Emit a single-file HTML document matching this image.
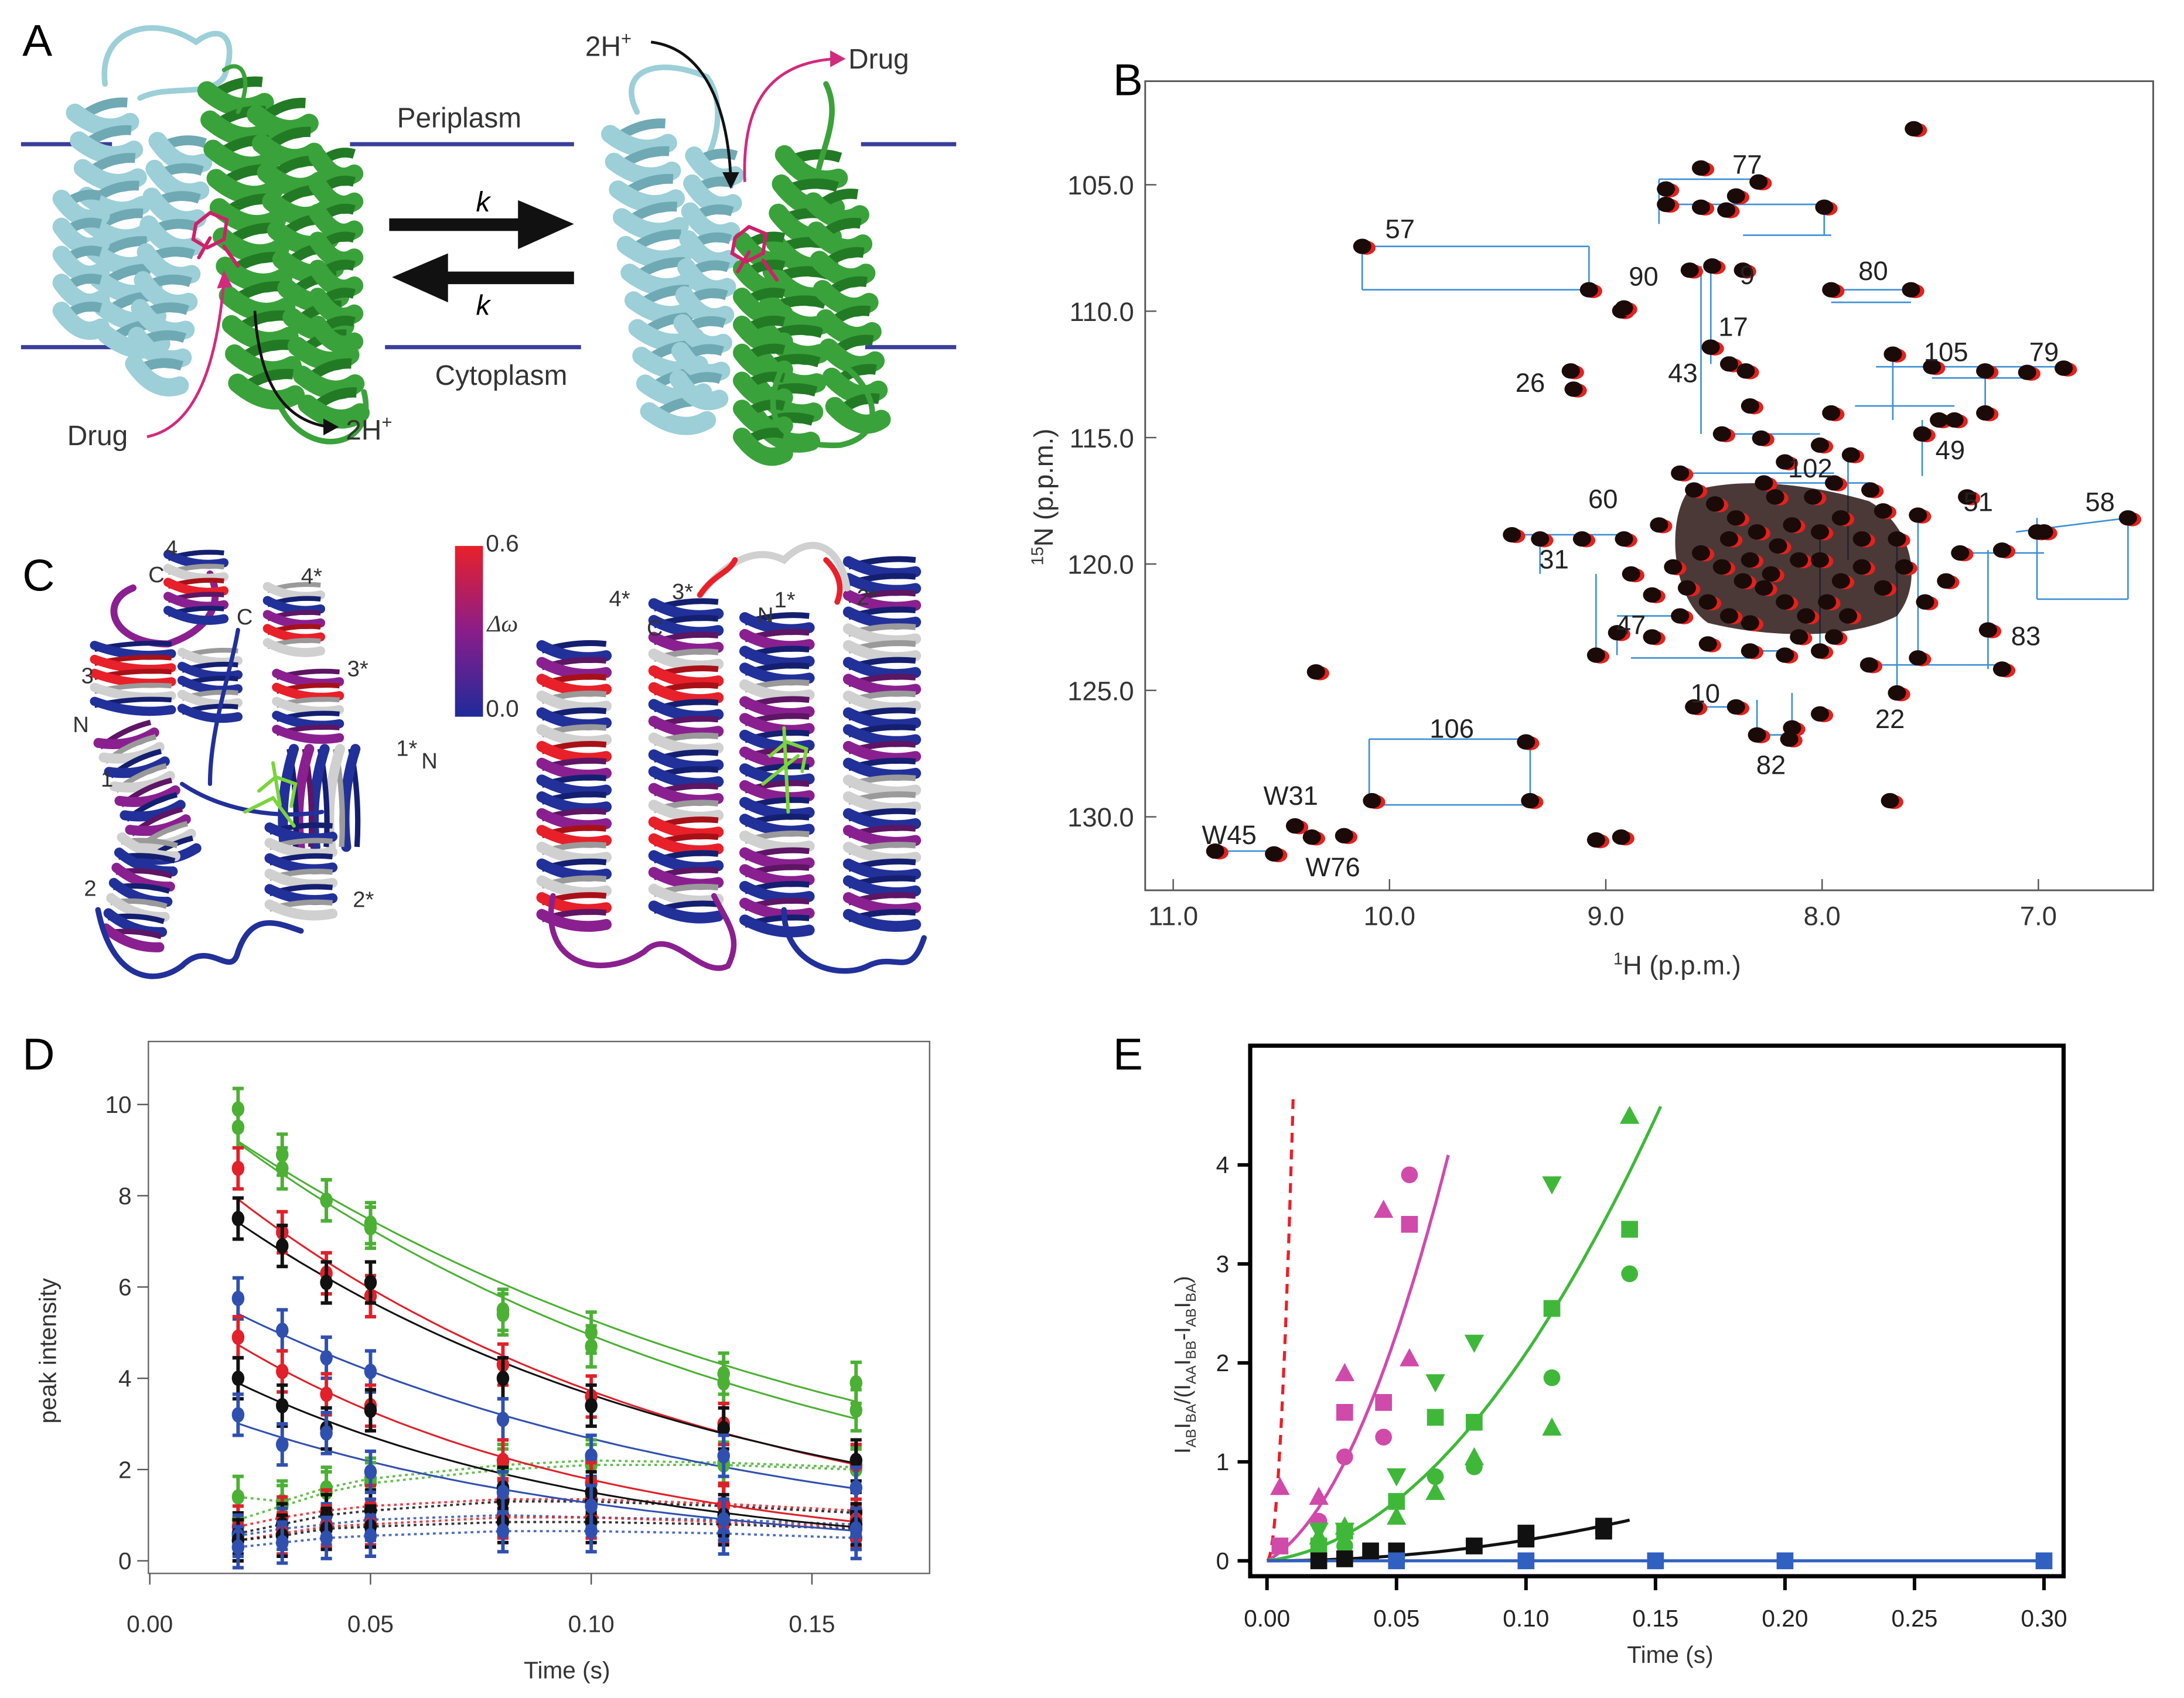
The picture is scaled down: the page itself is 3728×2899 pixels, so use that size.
<!DOCTYPE html>
<html><head><meta charset="utf-8">
<style>
html,body{margin:0;padding:0;background:#fff;}
svg{display:block;font-family:"Liberation Sans",sans-serif;}
</style></head>
<body>
<svg id="fig" width="3728" height="2899" viewBox="0 0 1560 1213" preserveAspectRatio="none" xmlns="http://www.w3.org/2000/svg">
<rect x="0" y="0" width="1560" height="1213" fill="#fff"/>
<!-- Panel A -->
<g id="panelA">
<text x="16" y="40" font-size="32">A</text>
<g stroke="#3a3f9a" stroke-width="3">
<line x1="15" y1="103" x2="80" y2="103"/><line x1="250" y1="103" x2="410" y2="103"/><line x1="615" y1="103" x2="683" y2="103"/>
<line x1="15" y1="248" x2="80" y2="248"/><line x1="275" y1="248" x2="415" y2="248"/><line x1="618" y1="248" x2="683" y2="248"/>
</g>
<text x="328" y="91" font-size="20" text-anchor="middle" fill="#333">Periplasm</text>
<text x="358" y="275" font-size="20" text-anchor="middle" fill="#333">Cytoplasm</text>
<g><rect x="278" y="156" width="95" height="9" fill="#111"/><polygon points="370,143 410,160 370,178" fill="#111"/></g>
<g><rect x="318" y="194" width="92" height="9" fill="#111"/><polygon points="320,181 280,198 320,216" fill="#111"/></g>
<text x="345" y="151" font-size="20" font-style="italic" text-anchor="middle">k</text>
<text x="345" y="225" font-size="20" font-style="italic" text-anchor="middle">k</text>
<g id="protA1"></g>
<g id="protA2"></g>
<path d="M105,312 C140,305 155,260 160,200" fill="none" stroke="#d22a7c" stroke-width="2"/>
<polygon points="160,193 155,206 166,205" fill="#d22a7c"/>
<path d="M182,222 C185,270 200,300 235,305" fill="none" stroke="#111" stroke-width="2"/>
<polygon points="242,305 231,299 231,311" fill="#111"/>
<text x="48" y="318" font-size="20" fill="#333">Drug</text>
<text x="247" y="314" font-size="20" fill="#333">2H<tspan font-size="13" dy="-8">+</tspan></text>
<path d="M465,30 C505,35 520,80 522,128" fill="none" stroke="#111" stroke-width="2"/>
<polygon points="522,135 516,123 528,123" fill="#111"/>
<path d="M532,130 C530,80 545,45 597,42" fill="none" stroke="#d22a7c" stroke-width="2"/>
<polygon points="604,42 593,36 593,48" fill="#d22a7c"/>
<text x="418" y="40" font-size="20" fill="#333">2H<tspan font-size="13" dy="-8">+</tspan></text>
<text x="606" y="49" font-size="20" fill="#333">Drug</text>
</g>
<!-- Panel B -->
<g id="panelB">
<text x="795" y="68" font-size="32">B</text>
<rect x="818" y="58" width="720" height="578" fill="none" stroke="#555" stroke-width="1.2"/>
<g id="bLines"></g>
<g id="bPeaks"></g>
<g id="bAxes"></g>
<g id="bLabels"></g>
<text transform="translate(752,355) rotate(-90)" font-size="19" text-anchor="middle" fill="#333"><tspan font-size="12" dy="-7">15</tspan><tspan dy="7">N (p.p.m.)</tspan></text>
<text x="1198" y="696" font-size="19" text-anchor="middle" fill="#333"><tspan font-size="12" dy="-7">1</tspan><tspan dy="7">H (p.p.m.)</tspan></text>
</g>
<!-- Panel C -->
<g id="panelC">
<text x="16" y="422" font-size="32">C</text>
<g id="protC1"></g>
<g id="protC2"></g>
<defs><linearGradient id="cbar" x1="0" y1="1" x2="0" y2="0"><stop offset="0" stop-color="#1f2a9a"/><stop offset="0.5" stop-color="#8a1d8a"/><stop offset="1" stop-color="#e8202a"/></linearGradient></defs>
<rect x="325" y="390" width="20" height="122" fill="url(#cbar)"/>
<text x="347" y="394" font-size="17" fill="#333">0.6</text>
<text x="347" y="512" font-size="17" fill="#333">0.0</text>
<text x="348" y="451" font-size="17" font-style="italic" fill="#333" font-family="Liberation Serif,serif">Δω</text>
<g font-size="16" fill="#333">
<text x="118" y="397">4</text><text x="106" y="416">C</text><text x="215" y="417">4*</text><text x="169" y="446">C</text>
<text x="248" y="483">3*</text><text x="58" y="488">3</text><text x="52" y="523">N</text><text x="283" y="540">1*</text><text x="301" y="549">N</text>
<text x="72" y="562">1</text><text x="60" y="640">2</text><text x="252" y="648">2*</text>
<text x="435" y="433">4*</text><text x="462" y="454">C</text><text x="480" y="428">3*</text><text x="541" y="445">N</text><text x="553" y="434">1*</text><text x="612" y="432">2*</text>
</g>
</g>
<!-- Panel D -->
<g id="panelD">
<text x="16" y="764" font-size="32">D</text>
<rect x="106" y="744" width="558" height="380" fill="none" stroke="#666" stroke-width="1"/>
<g id="dMarks"></g>
<g id="dAxes"></g>
<text x="405" y="1199" font-size="17" text-anchor="middle" fill="#333">Time (s)</text>
<text transform="translate(40,965) rotate(-90)" font-size="17" text-anchor="middle" fill="#333">peak intensity</text>
</g>
<!-- Panel E -->
<g id="panelE">
<text x="795" y="764" font-size="32">E</text>
<rect x="893" y="747" width="581" height="379" fill="none" stroke="#000" stroke-width="3"/>
<g id="eMarks"></g>
<g id="eAxes"></g>
<text x="1193" y="1188" font-size="17" text-anchor="middle" fill="#333">Time (s)</text>
<text transform="translate(850,975) rotate(-90)" font-size="16" text-anchor="middle" fill="#333">I<tspan font-size="10" dy="4">AB</tspan><tspan dy="-4">I</tspan><tspan font-size="10" dy="4">BA</tspan><tspan dy="-4">/(I</tspan><tspan font-size="10" dy="4">AA</tspan><tspan dy="-4">I</tspan><tspan font-size="10" dy="4">BB</tspan><tspan dy="-4">-I</tspan><tspan font-size="10" dy="4">AB</tspan><tspan dy="-4">I</tspan><tspan font-size="10" dy="4">BA</tspan><tspan dy="-4">)</tspan></text>
</g>
</svg>
<script>
const NS="http://www.w3.org/2000/svg";
function mk(tag,attrs,parent){const e=document.createElementNS(NS,tag);for(const k in attrs)e.setAttribute(k,attrs[k]);if(parent)parent.appendChild(e);return e;}

/* ---------- Panel D data ---------- */
const dTimes=[0.02,0.03,0.04,0.05,0.08,0.10,0.13,0.16];
const dXTicks=[0,0.05,0.10,0.15];
const dXTickLabels=["0.00","0.05","0.10","0.15"];
const dYTicks=[0,2,4,6,8,10];
const dColors=["#4cb034","#4cb034","#e0202a","#111111","#3050b0","#e0202a","#111111","#3050b0"];
const dDecayGreen1=[9.9,8.9,7.9,7.4,5.5,5.0,4.1,3.9];
const dDecayGreen2=[9.5,8.6,7.9,7.3,5.4,4.7,3.9,3.3];
const dDecayRed1=[8.6,7.2,6.3,5.8,4.3,3.6,3.0,2.1];
const dDecayBlack1=[7.5,6.9,6.1,6.1,4.0,3.4,2.9,2.2];
const dDecayBlue1=[5.75,5.05,4.45,4.15,3.1,2.3,2.3,1.6];
const dDecayRed2=[4.9,4.15,3.65,3.4,2.2,1.7,1.2,0.9];
const dDecayBlack2=[4.0,3.4,2.9,3.3,1.6,1.5,1.0,0.8];
const dDecayBlue2=[3.2,2.55,2.8,1.95,1.5,1.2,0.9,0.7];
const dCrossGreen1=[1.4,1.3,1.6,1.8,2.1,2.2,2.15,2.05];
const dCrossGreen2=[0.9,1.2,1.5,1.7,2.0,2.1,2.1,2.0];
const dCrossRed1=[0.75,0.95,1.1,1.2,1.35,1.35,1.25,1.1];
const dCrossBlack1=[0.6,0.8,1.0,1.1,1.3,1.3,1.2,1.05];
const dCrossBlue1=[0.55,0.7,0.8,0.9,1.0,0.95,0.9,0.8];
const dCrossRed2=[0.45,0.6,0.75,0.8,0.95,0.95,0.85,0.75];
const dCrossBlack2=[0.45,0.55,0.7,0.75,0.85,0.85,0.8,0.7];
const dCrossBlue2=[0.3,0.4,0.5,0.55,0.65,0.65,0.6,0.5];
const dDecay=[dDecayGreen1,dDecayGreen2,dDecayRed1,dDecayBlack1,dDecayBlue1,dDecayRed2,dDecayBlack2,dDecayBlue2];
const dCross=[dCrossGreen1,dCrossGreen2,dCrossRed1,dCrossBlack1,dCrossBlue1,dCrossRed2,dCrossBlack2,dCrossBlue2];

/* ---------- Panel E data ---------- */
const eXTicks=[0,0.05,0.10,0.15,0.20,0.25,0.30];
const eXTickLabels=["0.00","0.05","0.10","0.15","0.20","0.25","0.30"];
const eYTicks=[0,1,2,3,4];
const eMagTriT=[0.005,0.02,0.03,0.045,0.055];
const eMagTriV=[0.75,0.65,1.9,3.55,2.05];
const eMagSqT=[0.005,0.03,0.045,0.055];
const eMagSqV=[0.15,1.5,1.6,3.4];
const eMagCirT=[0.02,0.03,0.045,0.055];
const eMagCirV=[0.4,1.05,1.25,3.9];
const eGrnSqT=[0.02,0.03,0.05,0.065,0.08,0.11,0.14];
const eGrnSqV=[0.15,0.3,0.6,1.45,1.4,2.55,3.35];
const eGrnCirT=[0.02,0.03,0.065,0.08,0.11,0.14];
const eGrnCirV=[0.1,0.15,0.85,0.95,1.85,2.9];
const eGrnTriT=[0.02,0.03,0.05,0.065,0.08,0.11,0.14];
const eGrnTriV=[0.25,0.35,0.45,0.7,1.05,1.35,4.5];
const eGrnDnT=[0.02,0.03,0.05,0.065,0.08,0.11];
const eGrnDnV=[0.3,0.3,0.85,1.8,2.2,3.8];
const eBlkT=[0.02,0.03,0.04,0.05,0.08,0.10,0.10,0.13,0.13];
const eBlkV=[0.0,0.02,0.1,0.1,0.15,0.22,0.28,0.3,0.35];
const eBluT=[0.05,0.10,0.15,0.20,0.30];
const eBluV=[0,0,0,0,0];
const eFitMagenta=[14.4,631,0.07];
const eFitGreen=[3.3,177,0.152];
const eFitBlack=[0.0,21,0.14];
const eFitBlue=[0.0,0.0,0.30];
const eFitRedDash=[0,46000,0.0101];

/* ---------- Panel B data (ppm) ---------- */
const bPeakH=[];const bPeakN=[];
const bPeakPx=[[1367,92],[973,176],[1135,207],[1158,222],[1190,146],[1215,148],[1233,150],[1256,130],[1303,148],[1207,193],[1223,190],[1245,193],[1308,207],[1365,207],[1222,248],[1235,260],[1247,265],[1122,265],[1124,278],[1352,253],[1380,262],[1418,265],[1448,266],[1474,263],[1418,295],[1385,300],[1308,295],[1250,290],[1258,313],[1230,310],[1275,330],[1300,318],[1322,325],[1373,310],[1396,300],[1200,338],[1260,345],[1310,345],[1336,350],[1370,368],[1405,355],[1455,380],[1520,370],[1080,382],[1100,385],[1130,385],[1160,385],[1185,375],[1300,380],[1355,385],[1400,395],[1430,393],[1460,380],[1140,468],[1155,452],[1180,455],[1220,460],[1250,465],[1275,468],[1300,465],[1335,475],[1370,470],[1420,450],[1430,478],[1355,495],[1210,505],[1240,505],[1280,520],[1300,510],[1255,525],[1278,528],[1090,530],[1093,572],[980,572],[940,480],[925,590],[937,598],[960,597],[868,608],[910,610],[1140,600],[1158,598],[1350,572],[1215,120],[1190,135],[1240,140],[1160,220],[1295,355],[1268,355],
[1210,350],[1225,360],[1240,370],[1255,380],[1270,390],[1285,400],[1215,395],[1230,405],[1245,415],[1260,420],[1275,430],[1290,440],[1205,420],[1220,430],[1235,440],[1250,445],[1265,410],[1280,375],[1300,400],[1315,415],[1330,405],[1345,420],[1320,440],[1305,430],[1195,405],[1200,440],[1315,370],[1330,385],[1345,365],[1360,405],[1375,430],[1390,415],[1165,410],[1180,425],[1235,385],[1250,400],[1285,455],[1310,455]];
bPeakPx.forEach(p=>{bPeakH.push(+(11-(p[0]-838)/154.5).toFixed(3));bPeakN.push(+(105+(p[1]-132)/18.06).toFixed(3));});
const bLabels=[["77",1248,124],["57",1000,170],["90",1174,204],["9",1248,203],["80",1338,200],["17",1238,240],["105",1390,258],["79",1460,258],["26",1093,280],["43",1202,273],["49",1393,328],["102",1293,341],["60",1145,363],["51",1413,365],["58",1500,365],["31",1110,406],["47",1165,453],["83",1447,461],["10",1218,502],["22",1350,520],["82",1265,553],["106",1037,527],["W31",922,575],["W45",878,603],["W76",952,626]];

const xB=h=>838+(11-h)*154.5, yB=n=>132+(n-105)*18.06;
const bYTicks=[105,110,115,120,125,130];
const bXTicks=[11,10,9,8,7];

(function(){
 const ax=document.getElementById('bAxes');
 bYTicks.forEach(v=>{mk('line',{x1:818,x2:826,y1:yB(v),y2:yB(v),stroke:'#555'},ax);
  const t=mk('text',{x:810,y:yB(v)+7,'font-size':19,'text-anchor':'end',fill:'#333'},ax);t.textContent=v.toFixed(1);
  
  });
 bXTicks.forEach(v=>{mk('line',{x1:xB(v),x2:xB(v),y1:636,y2:628,stroke:'#555'},ax);
  const t=mk('text',{x:xB(v),y:661,'font-size':19,'text-anchor':'middle',fill:'#333'},ax);t.textContent=v.toFixed(1);
  
  });
 const ln=document.getElementById('bLines');
 const segs=[[973,176,1135,176],[1135,176,1135,207],[973,207,1135,207],[973,176,973,207],[978,528,1093,528],[1093,528,1093,575],[978,575,1093,575],[978,528,978,575],[868,608,910,608],
 [1185,128,1256,128],[1185,128,1185,160],[1190,146,1303,146],[1245,168,1308,168],[1303,146,1303,168],[1308,207,1365,207],[1308,216,1365,216],[1215,190,1215,310],[1222,190,1222,260],[1340,262,1474,262],[1352,253,1352,300],[1418,265,1418,300],[1380,270,1448,270],[1440,380,1520,370],[1455,370,1455,428],[1455,428,1520,428],[1520,370,1520,428],[1080,382,1160,382],[1100,385,1100,410],[1140,410,1140,468],[1155,440,1200,440],[1155,452,1155,468],[1300,380,1300,465],[1355,385,1355,495],[1335,475,1430,475],[1420,393,1420,478],[1210,505,1240,505],[1255,525,1278,525],[1255,500,1255,525],[1280,495,1280,520],[1250,465,1275,465],[1370,368,1370,470],[1400,395,1460,395],[1200,338,1310,338],[1260,345,1336,345],[1325,290,1396,290],[1373,300,1373,340],[1320,330,1320,400],[1230,310,1300,310],[1165,470,1250,470]];
 segs.forEach(s=>{const l=mk('line',{x1:s[0],y1:s[1],x2:s[2],y2:s[3],stroke:'#3b8fd6','stroke-width':1.1},ln);
  
  });
 const pk=document.getElementById('bPeaks');
 mk('path',{d:'M1205,352 C1240,340 1290,345 1335,358 C1365,375 1375,415 1355,440 C1320,458 1260,455 1220,445 C1195,428 1190,375 1205,352Z',fill:'#1e0806',opacity:0.8},pk);
 for(let i=0;i<bPeakH.length;i++){
  const x=xB(bPeakH[i]),y=yB(bPeakN[i]);
  const r=mk('ellipse',{cx:x+3,cy:y+1,rx:6.5,ry:5,fill:'#e8201c'},pk);
  
  
  const e=mk('ellipse',{cx:x,cy:y,rx:6.5,ry:5.5,fill:'#1a0a08'},pk);
  
  
 }
 const lb=document.getElementById('bLabels');
 bLabels.forEach(l=>{const t=mk('text',{x:l[1],y:l[2],'font-size':19,'text-anchor':'middle',fill:'#222'},lb);t.textContent=l[0];
  
  });
})();

function helix(g,cx,y1,y2,w,colors,ang,sw){
 const grp=mk('g',{transform:`rotate(${ang||0} ${cx} ${(y1+y2)/2})`},g);
 const p=sw||13;const n=Math.max(1,Math.round((y2-y1)/p));
 for(let k=0;k<n;k++){const y=y1+k*p;const c=colors[k%colors.length];
  mk('path',{d:`M${cx+w/2},${y} Q${cx},${y-p*0.2} ${cx-w/2},${y+p*0.4}`,stroke:shade(c),'stroke-width':p*0.35,fill:'none'},grp);
  mk('path',{d:`M${cx-w/2},${y+p*0.1} Q${cx},${y+p*1.1} ${cx+w/2},${y+p*0.7}`,stroke:c,'stroke-width':p*0.65,fill:'none','stroke-linecap':'round'},grp);}
 return grp;}
function shade(c){const m={"#9ccfd8":"#6fa9b4","#3aa23a":"#237a25","#22309a":"#141f70","#d0d0d0":"#9a9a9a","#e8202a":"#a81018","#8a2090":"#5d1564"};return m[c]||c;}
function loop(g,d,c,w){mk('path',{d:d,stroke:c,'stroke-width':w||3.5,fill:'none','stroke-linecap':'round'},g);}

(function(){
 const g1=document.getElementById('protA1'),g2=document.getElementById('protA2');
 const cy='#9ccfd8',gr='#3aa23a';
 loop(g1,'M75,60 C70,20 110,10 140,30 C160,15 170,30 160,55 C150,70 120,60 100,70',cy,4);
 helix(g1,85,75,260,38,[cy],-8,20);helix(g1,120,100,285,34,[cy],6,20);helix(g1,58,140,230,28,[cy],0,20);
 helix(g1,180,60,300,40,[gr],-6,21);helix(g1,220,75,300,36,[gr],-10,21);helix(g1,240,110,250,26,[gr],0,20);
 loop(g1,'M160,50 C175,40 180,60 170,80',gr,3);loop(g1,'M200,290 C220,330 270,320 260,280',gr,4);
 loop(g1,'M140,160 l10,-8 l12,5 l-2,14 l-12,6 l-10,-6z M150,170 l-8,14 M160,176 l10,14',"#d0206a",2.5);
 loop(g2,'M455,80 C440,50 470,40 505,55 C520,75 510,110 500,120',cy,4);
 helix(g2,470,90,300,40,[cy],-8,20);helix(g2,505,110,280,30,[cy],4,20);
 helix(g2,570,110,310,40,[gr],6,21);helix(g2,605,140,300,32,[gr],-6,21);helix(g2,545,170,320,30,[gr],0,20);
 loop(g2,'M560,260 C540,300 560,320 600,318 C640,310 620,270 600,260',gr,4);loop(g2,'M590,60 C600,80 590,100 585,120',gr,4);
 loop(g2,'M525,170 l10,-8 l12,5 l-2,14 l-12,6 l-10,-6z M535,180 l-8,14 M545,186 l10,14',"#d0206a",2.5);
})();

(function(){
 const g1=document.getElementById('protC1'),g2=document.getElementById('protC2');
 const B='#22309a',G='#d0d0d0',R='#e8202a',P='#8a2090';
 loop(g1,'M95,420 C70,430 80,460 120,460 C150,450 160,430 150,410',P,5);
 helix(g1,140,395,440,40,[B,G,R,P],0,10);helix(g1,210,418,465,38,[G,B,P,R],0,10);
 helix(g1,95,460,505,55,[B,R,R,G],0,10);helix(g1,150,465,510,40,[G,B,B],0,10);
 helix(g1,220,480,530,45,[P,R,G,B],0,10);
 helix(g1,105,520,615,40,[P,G,B,G,P,B],-20,11);helix(g1,100,600,680,40,[G,B,P,B],10,11);
 helix(g1,225,540,600,70,[B,G,B,P],90,11);helix(g1,215,590,660,45,[B,G,B,G],0,11);
 loop(g1,'M70,650 C80,700 110,705 130,690 C150,670 165,700 170,680 C180,650 200,660 215,665',B,4);
 loop(g1,'M130,560 C160,580 200,585 230,580 M170,450 C165,480 150,520 150,560',B,3);
 loop(g1,'M185,565 l12,-10 l14,5 l-3,16 M175,580 l20,-10 l15,20 M195,545 l5,30',"#7ad43a",2.5);
 helix(g2,410,460,660,46,[B,P,R,G,B,G,R,P,B],0,12);
 helix(g2,490,430,660,46,[B,B,P,G,R,R,B,P,G],0,12);
 helix(g2,555,440,670,46,[B,P,B,B,G,P,P,B,P],0,12);
 helix(g2,630,400,660,48,[B,B,P,B,G,G,B,P,G],0,12);
 loop(g2,'M500,425 C520,400 540,390 560,400 C580,380 600,390 605,420',G,5);
 loop(g2,'M500,425 C510,410 520,410 525,400',R,4);loop(g2,'M590,400 C600,410 602,420 598,430',R,4);
 loop(g2,'M395,640 C385,690 430,700 460,680 C480,660 500,700 520,690 C530,670 520,660 510,640',P,4);
 loop(g2,'M560,650 C560,690 600,700 620,690 C640,680 650,700 660,670',B,4);
 loop(g2,'M550,540 l12,-10 l14,5 l-3,16 M545,560 l25,-20 M560,520 l3,60',"#7ad43a",2.5);
})();

const xD=t=>107+t*3153, yD=v=>1115-v*32.6;
(function(){
 const ax=document.getElementById('dAxes'),mg=document.getElementById('dMarks');
 dYTicks.forEach(v=>{mk('line',{x1:98,x2:106,y1:yD(v),y2:yD(v),stroke:'#555'},ax);
  const t=mk('text',{x:94,y:yD(v)+6,'font-size':17,'text-anchor':'end',fill:'#333'},ax);t.textContent=v;
  
  });
 dXTicks.forEach((v,i)=>{mk('line',{x1:xD(v),x2:xD(v),y1:1124,y2:1132,stroke:'#555'},ax);
  const t=mk('text',{x:xD(v),y:1166,'font-size':17,'text-anchor':'middle',fill:'#333'},ax);t.textContent=dXTickLabels[i];
  
  });
 dCross.forEach((s,si)=>{let d='';const N=60;
  for(let j=0;j<=N;j++){const t=dTimes[0]+(dTimes[dTimes.length-1]-dTimes[0])*j/N;
   let k=0;while(k<dTimes.length-2&&t>dTimes[k+1])k++;
   const f=(t-dTimes[k])/(dTimes[k+1]-dTimes[k]);const v=s[k]+(s[k+1]-s[k])*f;
   d+=(j?'L':'M')+xD(t).toFixed(1)+','+yD(v).toFixed(1);}
  const p=mk('path',{d:d,fill:'none',stroke:dColors[si],'stroke-width':1.6,'stroke-dasharray':'2,2.5',opacity:0.85},mg);
  
  });
 dDecay.forEach((s,si)=>{const n=s.length;let sx=0,sy=0,sxx=0,sxy=0;
  s.forEach((v,i)=>{const x=dTimes[i],y=Math.log(v);sx+=x;sy+=y;sxx+=x*x;sxy+=x*y;});
  const b=(n*sxy-sx*sy)/(n*sxx-sx*sx),a=(sy-b*sx)/n;let d='';
  for(let j=0;j<=50;j++){const t=0.02+0.14*j/50;d+=(j?'L':'M')+xD(t).toFixed(1)+','+yD(Math.exp(a+b*t)).toFixed(1);}
  const p=mk('path',{d:d,fill:'none',stroke:dColors[si],'stroke-width':1.3},mg);
  
  });
 function pts(s,si,nm){s.forEach((v,i)=>{const x=xD(dTimes[i]),y=yD(v),e=0.45*32.6,c=dColors[si];
  const g=mk('g',{},mg);
  
  
  mk('line',{x1:x,x2:x,y1:y-e,y2:y+e,stroke:c,'stroke-width':2.5},g);
  mk('line',{x1:x-4,x2:x+4,y1:y-e,y2:y-e,stroke:c,'stroke-width':2.5},g);
  mk('line',{x1:x-4,x2:x+4,y1:y+e,y2:y+e,stroke:c,'stroke-width':2.5},g);
  mk('ellipse',{cx:x,cy:y,rx:4.5,ry:5.5,fill:c},g);});}
 dCross.forEach((s,si)=>pts(s,si,'buildup-point'));
 dDecay.forEach((s,si)=>pts(s,si,'decay-point'));
})();

const xE=t=>905+t*1850, yE=v=>1115-v*70.7;
(function(){
 const ax=document.getElementById('eAxes'),mg=document.getElementById('eMarks');
 eYTicks.forEach(v=>{mk('line',{x1:884,x2:893,y1:yE(v),y2:yE(v),stroke:'#000','stroke-width':2.5},ax);
  const t=mk('text',{x:878,y:yE(v)+6,'font-size':17,'text-anchor':'end',fill:'#222'},ax);t.textContent=v;
  
  });
 eXTicks.forEach((v,i)=>{mk('line',{x1:xE(v),x2:xE(v),y1:1126,y2:1136,stroke:'#000','stroke-width':2.5},ax);
  const t=mk('text',{x:xE(v),y:1162,'font-size':17,'text-anchor':'middle',fill:'#222'},ax);t.textContent=eXTickLabels[i];
  
  });
 function fit(c,col,dash,nm){let d='';for(let j=0;j<=60;j++){const t=c[2]*j/60;let v=c[0]*t+c[1]*t*t;d+=(j?'L':'M')+xE(t).toFixed(1)+','+yE(v).toFixed(1);}
  const p=mk('path',{d:d,fill:'none',stroke:col,'stroke-width':2.2},mg);if(dash)p.setAttribute('stroke-dasharray','7,5');
  
  }
 fit(eFitRedDash,'#e8202a',true,'fit-red-dashed');fit(eFitMagenta,'#d04aaa',false,'fit-magenta');
 fit(eFitGreen,'#3fb83a',false,'fit-green');fit(eFitBlack,'#111',false,'fit-black');fit(eFitBlue,'#3060c0',false,'fit-blue');
 function mark(T,V,col,shape,nm){T.forEach((t,i)=>{const x=xE(t),y=yE(V[i]);let e;
  if(shape==='c')e=mk('circle',{cx:x,cy:y,r:6,fill:col},mg);
  else if(shape==='s')e=mk('rect',{x:x-6,y:y-6,width:12,height:12,fill:col},mg);
  else if(shape==='t')e=mk('polygon',{points:`${x},${y-7} ${x-7},${y+6} ${x+7},${y+6}`,fill:col},mg);
  else e=mk('polygon',{points:`${x},${y+7} ${x-7},${y-6} ${x+7},${y-6}`,fill:col},mg);
  
  });}
 const M='#d04aaa',Gc='#3fb83a';
 mark(eMagTriT,eMagTriV,M,'t','magenta-triangle');mark(eMagSqT,eMagSqV,M,'s','magenta-square');mark(eMagCirT,eMagCirV,M,'c','magenta-circle');
 mark(eGrnSqT,eGrnSqV,Gc,'s','green-square');mark(eGrnCirT,eGrnCirV,Gc,'c','green-circle');mark(eGrnTriT,eGrnTriV,Gc,'t','green-triangle');mark(eGrnDnT,eGrnDnV,Gc,'d','green-down-triangle');
 mark(eBlkT,eBlkV,'#111','s','black-marker');mark(eBluT,eBluV,'#3060c0','s','blue-marker');
})();
</script>
</body></html>
